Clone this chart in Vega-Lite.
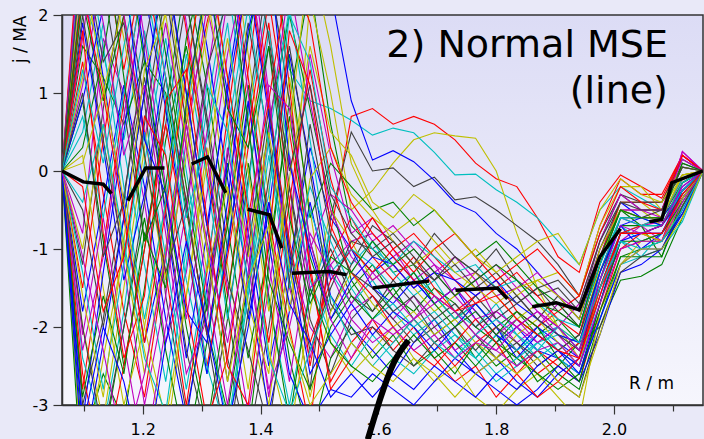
{
"$schema": "https://vega.github.io/schema/vega-lite/v6.json",
"width": 641, "height": 390,
"autosize": {"type": "none"},
"padding": {"left": 62, "top": 15, "right": 1, "bottom": 34},
"background": "#e9e9f8",
"config": {
 "font": "DejaVu Sans",
 "view": {"stroke": "#333333", "strokeWidth": 1.5, "fill": {"gradient": "linear", "x1": 0, "y1": 0, "x2": 0, "y2": 1, "stops": [{"offset": 0, "color": "#dcdcf5"}, {"offset": 1, "color": "#f6f6fd"}]}},
 "axis": {"zindex": 1, "grid": false, "domainColor": "#333333", "domainWidth": 1.5, "tickColor": "#333333", "tickWidth": 1.2, "labelColor": "#000000", "labelFont": "DejaVu Sans", "labelFontSize": 16, "titleFont": "DejaVu Sans", "titleFontWeight": "normal", "titleFontSize": 17, "titleColor": "#000000", "labelOverlap": false, "labelFlush": false}
},
"datasets": {
"m": [
{"s":0,"r":1.063,"j":0},{"s":0,"r":1.098,"j":2.8},{"s":0,"r":1.133,"j":1.2},{"s":0,"r":1.168,"j":-0.5},{"s":0,"r":1.203,"j":-2.2},{"s":0,"r":1.239,"j":-1.0},{"s":0,"r":1.274,"j":0.8},{"s":0,"r":1.309,"j":2.5},{"s":0,"r":1.344,"j":1.0},{"s":0,"r":1.379,"j":-0.8},{"s":0,"r":1.414,"j":-2.5},{"s":0,"r":1.449,"j":-1.2},{"s":0,"r":1.484,"j":0.3},{"s":0,"r":1.519,"j":-0.6},{"s":0,"r":1.554,"j":-1.0},{"s":0,"r":1.59,"j":-1.3},{"s":0,"r":1.625,"j":-1.1},{"s":0,"r":1.66,"j":-1.4},{"s":0,"r":1.695,"j":-1.7},{"s":0,"r":1.73,"j":-1.5},{"s":0,"r":1.765,"j":-1.9},{"s":0,"r":1.8,"j":-2.2},{"s":0,"r":1.835,"j":-2.0},{"s":0,"r":1.87,"j":-2.3},{"s":0,"r":1.905,"j":-2.4},{"s":0,"r":1.941,"j":-2.6},{"s":0,"r":1.976,"j":-1.7},{"s":0,"r":2.011,"j":-0.8},{"s":0,"r":2.046,"j":-0.8},{"s":0,"r":2.081,"j":-0.7},{"s":0,"r":2.116,"j":-0.35},{"s":0,"r":2.151,"j":0},
{"s":1,"r":1.063,"j":0},{"s":1,"r":1.098,"j":-3.5},{"s":1,"r":1.133,"j":-2.6},{"s":1,"r":1.168,"j":-3.2},{"s":1,"r":1.203,"j":-1.5},{"s":1,"r":1.239,"j":0.4},{"s":1,"r":1.274,"j":1.6},{"s":1,"r":1.309,"j":0.2},{"s":1,"r":1.344,"j":-1.8},{"s":1,"r":1.379,"j":-3.4},{"s":1,"r":1.414,"j":-1.2},{"s":1,"r":1.449,"j":0.9},{"s":1,"r":1.484,"j":2.4},{"s":1,"r":1.519,"j":0.6},{"s":1,"r":1.554,"j":-0.7},{"s":1,"r":1.59,"j":-1.0},{"s":1,"r":1.625,"j":-1.3},{"s":1,"r":1.66,"j":-1.2},{"s":1,"r":1.695,"j":-1.6},{"s":1,"r":1.73,"j":-1.9},{"s":1,"r":1.765,"j":-1.7},{"s":1,"r":1.8,"j":-2.0},{"s":1,"r":1.835,"j":-1.8},{"s":1,"r":1.87,"j":-2.1},{"s":1,"r":1.905,"j":-1.9},{"s":1,"r":1.941,"j":-2.2},{"s":1,"r":1.976,"j":-1.4},{"s":1,"r":2.011,"j":-0.6},{"s":1,"r":2.046,"j":-0.6},{"s":1,"r":2.081,"j":-0.6},{"s":1,"r":2.116,"j":-0.25},{"s":1,"r":2.151,"j":0},
{"s":2,"r":1.063,"j":0},{"s":2,"r":1.098,"j":1.4},{"s":2,"r":1.133,"j":-0.3},{"s":2,"r":1.168,"j":-1.8},{"s":2,"r":1.203,"j":-2.9},{"s":2,"r":1.239,"j":-1.1},{"s":2,"r":1.274,"j":0.6},{"s":2,"r":1.309,"j":1.9},{"s":2,"r":1.344,"j":3.0},{"s":2,"r":1.379,"j":1.2},{"s":2,"r":1.414,"j":-0.6},{"s":2,"r":1.449,"j":-2.0},{"s":2,"r":1.484,"j":-3.3},{"s":2,"r":1.519,"j":-0.8},{"s":2,"r":1.554,"j":0.7},{"s":2,"r":1.59,"j":0.8},{"s":2,"r":1.625,"j":0.6},{"s":2,"r":1.66,"j":0.7},{"s":2,"r":1.695,"j":0.6},{"s":2,"r":1.73,"j":0.4},{"s":2,"r":1.765,"j":0.1},{"s":2,"r":1.8,"j":-0.1},{"s":2,"r":1.835,"j":-0.2},{"s":2,"r":1.87,"j":-0.6},{"s":2,"r":1.905,"j":-1.1},{"s":2,"r":1.941,"j":-1.3},{"s":2,"r":1.976,"j":-0.4},{"s":2,"r":2.011,"j":-0.05},{"s":2,"r":2.046,"j":-0.2},{"s":2,"r":2.081,"j":-0.35},{"s":2,"r":2.116,"j":0.2},{"s":2,"r":2.151,"j":0},
{"s":3,"r":1.063,"j":0},{"s":3,"r":1.098,"j":2.2},{"s":3,"r":1.133,"j":1.5},{"s":3,"r":1.168,"j":0.4},{"s":3,"r":1.203,"j":1.8},{"s":3,"r":1.239,"j":0.2},{"s":3,"r":1.274,"j":-1.4},{"s":3,"r":1.309,"j":-2.6},{"s":3,"r":1.344,"j":-0.9},{"s":3,"r":1.379,"j":0.7},{"s":3,"r":1.414,"j":2.3},{"s":3,"r":1.449,"j":1.3},{"s":3,"r":1.484,"j":0.9},{"s":3,"r":1.519,"j":0.8},{"s":3,"r":1.554,"j":0.65},{"s":3,"r":1.59,"j":0.46},{"s":3,"r":1.625,"j":0.55},{"s":3,"r":1.66,"j":0.49},{"s":3,"r":1.695,"j":0.24},{"s":3,"r":1.73,"j":-0.05},{"s":3,"r":1.765,"j":-0.04},{"s":3,"r":1.8,"j":-0.24},{"s":3,"r":1.835,"j":-0.4},{"s":3,"r":1.87,"j":-0.6},{"s":3,"r":1.905,"j":-0.9},{"s":3,"r":1.941,"j":-1.2},{"s":3,"r":1.976,"j":-0.5},{"s":3,"r":2.011,"j":-0.2},{"s":3,"r":2.046,"j":-0.35},{"s":3,"r":2.081,"j":-0.5},{"s":3,"r":2.116,"j":0.05},{"s":3,"r":2.151,"j":0},
{"s":4,"r":1.063,"j":0},{"s":4,"r":1.098,"j":-0.8},{"s":4,"r":1.133,"j":1.7},{"s":4,"r":1.168,"j":1.0},{"s":4,"r":1.203,"j":-0.4},{"s":4,"r":1.239,"j":-2.2},{"s":4,"r":1.274,"j":-1.3},{"s":4,"r":1.309,"j":0.5},{"s":4,"r":1.344,"j":2.2},{"s":4,"r":1.379,"j":3.1},{"s":4,"r":1.414,"j":1.0},{"s":4,"r":1.449,"j":-1.5},{"s":4,"r":1.484,"j":-2.4},{"s":4,"r":1.519,"j":-1.2},{"s":4,"r":1.554,"j":-0.9},{"s":4,"r":1.59,"j":-0.8},{"s":4,"r":1.625,"j":-1.1},{"s":4,"r":1.66,"j":-0.9},{"s":4,"r":1.695,"j":-1.2},{"s":4,"r":1.73,"j":-1.4},{"s":4,"r":1.765,"j":-1.3},{"s":4,"r":1.8,"j":-1.6},{"s":4,"r":1.835,"j":-1.5},{"s":4,"r":1.87,"j":-1.8},{"s":4,"r":1.905,"j":-2.0},{"s":4,"r":1.941,"j":-2.3},{"s":4,"r":1.976,"j":-1.3},{"s":4,"r":2.011,"j":-0.6},{"s":4,"r":2.046,"j":-0.7},{"s":4,"r":2.081,"j":-0.65},{"s":4,"r":2.116,"j":0.25},{"s":4,"r":2.151,"j":0},
{"s":5,"r":1.063,"j":0},{"s":5,"r":1.098,"j":-2.0},{"s":5,"r":1.133,"j":-3.2},{"s":5,"r":1.168,"j":-1.5},{"s":5,"r":1.203,"j":0.3},{"s":5,"r":1.239,"j":2.1},{"s":5,"r":1.274,"j":3.2},{"s":5,"r":1.309,"j":1.4},{"s":5,"r":1.344,"j":-0.3},{"s":5,"r":1.379,"j":-1.9},{"s":5,"r":1.414,"j":-3.0},{"s":5,"r":1.449,"j":-1.0},{"s":5,"r":1.484,"j":2.2},{"s":5,"r":1.519,"j":1.0},{"s":5,"r":1.554,"j":-0.5},{"s":5,"r":1.59,"j":-0.25},{"s":5,"r":1.625,"j":0.1},{"s":5,"r":1.66,"j":0.4},{"s":5,"r":1.695,"j":0.49},{"s":5,"r":1.73,"j":0.45},{"s":5,"r":1.765,"j":0.42},{"s":5,"r":1.8,"j":0.0},{"s":5,"r":1.835,"j":-0.8},{"s":5,"r":1.87,"j":-1.5},{"s":5,"r":1.905,"j":-2.0},{"s":5,"r":1.941,"j":-2.4},{"s":5,"r":1.976,"j":-1.2},{"s":5,"r":2.011,"j":-0.5},{"s":5,"r":2.046,"j":-0.5},{"s":5,"r":2.081,"j":-0.7},{"s":5,"r":2.116,"j":-0.15},{"s":5,"r":2.151,"j":0},
{"s":6,"r":1.063,"j":0},{"s":6,"r":1.098,"j":-1.2},{"s":6,"r":1.133,"j":0.8},{"s":6,"r":1.168,"j":2.4},{"s":6,"r":1.203,"j":0.9},{"s":6,"r":1.239,"j":-1.6},{"s":6,"r":1.274,"j":-3.1},{"s":6,"r":1.309,"j":-1.7},{"s":6,"r":1.344,"j":0.2},{"s":6,"r":1.379,"j":1.9},{"s":6,"r":1.414,"j":0.4},{"s":6,"r":1.449,"j":-1.4},{"s":6,"r":1.484,"j":-2.8},{"s":6,"r":1.519,"j":-0.6},{"s":6,"r":1.554,"j":0.5},{"s":6,"r":1.59,"j":0.0},{"s":6,"r":1.625,"j":0.04},{"s":6,"r":1.66,"j":-0.2},{"s":6,"r":1.695,"j":-0.08},{"s":6,"r":1.73,"j":-0.37},{"s":6,"r":1.765,"j":-0.33},{"s":6,"r":1.8,"j":-0.5},{"s":6,"r":1.835,"j":-0.7},{"s":6,"r":1.87,"j":-0.9},{"s":6,"r":1.905,"j":-1.2},{"s":6,"r":1.941,"j":-1.6},{"s":6,"r":1.976,"j":-0.8},{"s":6,"r":2.011,"j":-0.3},{"s":6,"r":2.046,"j":-0.4},{"s":6,"r":2.081,"j":-0.4},{"s":6,"r":2.116,"j":-0.05},{"s":6,"r":2.151,"j":0},
{"s":7,"r":1.063,"j":0},{"s":7,"r":1.098,"j":3.0},{"s":7,"r":1.133,"j":2.0},{"s":7,"r":1.168,"j":3.3},{"s":7,"r":1.203,"j":1.5},{"s":7,"r":1.239,"j":-0.6},{"s":7,"r":1.274,"j":-2.4},{"s":7,"r":1.309,"j":-0.8},{"s":7,"r":1.344,"j":1.1},{"s":7,"r":1.379,"j":2.8},{"s":7,"r":1.414,"j":3.4},{"s":7,"r":1.449,"j":2.5},{"s":7,"r":1.484,"j":2.6},{"s":7,"r":1.519,"j":2.3},{"s":7,"r":1.554,"j":0.9},{"s":7,"r":1.59,"j":0.14},{"s":7,"r":1.625,"j":0.26},{"s":7,"r":1.66,"j":0.12},{"s":7,"r":1.695,"j":-0.12},{"s":7,"r":1.73,"j":-0.41},{"s":7,"r":1.765,"j":-0.53},{"s":7,"r":1.8,"j":-0.8},{"s":7,"r":1.835,"j":-1.0},{"s":7,"r":1.87,"j":-1.3},{"s":7,"r":1.905,"j":-1.6},{"s":7,"r":1.941,"j":-1.9},{"s":7,"r":1.976,"j":-1.1},{"s":7,"r":2.011,"j":-0.4},{"s":7,"r":2.046,"j":-0.6},{"s":7,"r":2.081,"j":-0.6},{"s":7,"r":2.116,"j":-0.25},{"s":7,"r":2.151,"j":0},
{"s":8,"r":1.063,"j":0},{"s":8,"r":1.098,"j":1.6},{"s":8,"r":1.133,"j":1.2},{"s":8,"r":1.168,"j":0.6},{"s":8,"r":1.203,"j":1.4},{"s":8,"r":1.239,"j":1.0},{"s":8,"r":1.274,"j":-0.5},{"s":8,"r":1.309,"j":-2.0},{"s":8,"r":1.344,"j":-3.1},{"s":8,"r":1.379,"j":-1.4},{"s":8,"r":1.414,"j":0.6},{"s":8,"r":1.449,"j":2.0},{"s":8,"r":1.484,"j":0.8},{"s":8,"r":1.519,"j":-0.4},{"s":8,"r":1.554,"j":-1.4},{"s":8,"r":1.59,"j":-1.8},{"s":8,"r":1.625,"j":-1.5},{"s":8,"r":1.66,"j":-1.9},{"s":8,"r":1.695,"j":-2.2},{"s":8,"r":1.73,"j":-2.0},{"s":8,"r":1.765,"j":-2.4},{"s":8,"r":1.8,"j":-2.1},{"s":8,"r":1.835,"j":-2.5},{"s":8,"r":1.87,"j":-2.3},{"s":8,"r":1.905,"j":-2.6},{"s":8,"r":1.941,"j":-2.8},{"s":8,"r":1.976,"j":-1.9},{"s":8,"r":2.011,"j":-1.1},{"s":8,"r":2.046,"j":-1.0},{"s":8,"r":2.081,"j":-0.9},{"s":8,"r":2.116,"j":-0.55},{"s":8,"r":2.151,"j":0},
{"s":9,"r":1.063,"j":0},{"s":9,"r":1.098,"j":-2.8},{"s":9,"r":1.133,"j":-1.0},{"s":9,"r":1.168,"j":0.9},{"s":9,"r":1.203,"j":2.6},{"s":9,"r":1.239,"j":1.2},{"s":9,"r":1.274,"j":-0.4},{"s":9,"r":1.309,"j":-2.1},{"s":9,"r":1.344,"j":-0.6},{"s":9,"r":1.379,"j":1.3},{"s":9,"r":1.414,"j":3.2},{"s":9,"r":1.449,"j":1.1},{"s":9,"r":1.484,"j":-1.3},{"s":9,"r":1.519,"j":-2.7},{"s":9,"r":1.554,"j":-2.2},{"s":9,"r":1.59,"j":-1.9},{"s":9,"r":1.625,"j":-2.3},{"s":9,"r":1.66,"j":-2.0},{"s":9,"r":1.695,"j":-2.4},{"s":9,"r":1.73,"j":-2.7},{"s":9,"r":1.765,"j":-2.5},{"s":9,"r":1.8,"j":-2.9},{"s":9,"r":1.835,"j":-2.6},{"s":9,"r":1.87,"j":-2.3},{"s":9,"r":1.905,"j":-2.5},{"s":9,"r":1.941,"j":-2.7},{"s":9,"r":1.976,"j":-1.8},{"s":9,"r":2.011,"j":-1.0},{"s":9,"r":2.046,"j":-0.9},{"s":9,"r":2.081,"j":-0.8},{"s":9,"r":2.116,"j":-0.35},{"s":9,"r":2.151,"j":0},
{"s":10,"r":1.063,"j":0},{"s":10,"r":1.098,"j":0.5},{"s":10,"r":1.133,"j":1.9},{"s":10,"r":1.168,"j":0.3},{"s":10,"r":1.203,"j":-1.2},{"s":10,"r":1.239,"j":-2.7},{"s":10,"r":1.274,"j":-1.0},{"s":10,"r":1.309,"j":0.8},{"s":10,"r":1.344,"j":2.4},{"s":10,"r":1.379,"j":0.6},{"s":10,"r":1.414,"j":-1.7},{"s":10,"r":1.449,"j":-3.0},{"s":10,"r":1.484,"j":-1.6},{"s":10,"r":1.519,"j":-0.8},{"s":10,"r":1.554,"j":-1.2},{"s":10,"r":1.59,"j":-0.9},{"s":10,"r":1.625,"j":-1.3},{"s":10,"r":1.66,"j":-1.6},{"s":10,"r":1.695,"j":-1.4},{"s":10,"r":1.73,"j":-1.8},{"s":10,"r":1.765,"j":-2.0},{"s":10,"r":1.8,"j":-1.7},{"s":10,"r":1.835,"j":-2.1},{"s":10,"r":1.87,"j":-2.4},{"s":10,"r":1.905,"j":-2.2},{"s":10,"r":1.941,"j":-2.5},{"s":10,"r":1.976,"j":-1.6},{"s":10,"r":2.011,"j":-0.9},{"s":10,"r":2.046,"j":-1.1},{"s":10,"r":2.081,"j":-0.8},{"s":10,"r":2.116,"j":-0.45},{"s":10,"r":2.151,"j":0},
{"s":11,"r":1.063,"j":0},{"s":11,"r":1.098,"j":2.5},{"s":11,"r":1.133,"j":0.7},{"s":11,"r":1.168,"j":-1.2},{"s":11,"r":1.203,"j":-3.0},{"s":11,"r":1.239,"j":-1.6},{"s":11,"r":1.274,"j":0.4},{"s":11,"r":1.309,"j":2.1},{"s":11,"r":1.344,"j":0.9},{"s":11,"r":1.379,"j":-1.0},{"s":11,"r":1.414,"j":-2.9},{"s":11,"r":1.449,"j":-0.7},{"s":11,"r":1.484,"j":1.5},{"s":11,"r":1.519,"j":0.2},{"s":11,"r":1.554,"j":-0.8},{"s":11,"r":1.59,"j":-0.6},{"s":11,"r":1.625,"j":-1.0},{"s":11,"r":1.66,"j":-1.4},{"s":11,"r":1.695,"j":-1.2},{"s":11,"r":1.73,"j":-1.6},{"s":11,"r":1.765,"j":-1.4},{"s":11,"r":1.8,"j":-1.9},{"s":11,"r":1.835,"j":-2.2},{"s":11,"r":1.87,"j":-2.0},{"s":11,"r":1.905,"j":-1.7},{"s":11,"r":1.941,"j":-2.0},{"s":11,"r":1.976,"j":-1.1},{"s":11,"r":2.011,"j":-0.5},{"s":11,"r":2.046,"j":-0.5},{"s":11,"r":2.081,"j":-0.5},{"s":11,"r":2.116,"j":0.2},{"s":11,"r":2.151,"j":0},
{"s":12,"r":1.063,"j":0},{"s":12,"r":1.098,"j":-3.9},{"s":12,"r":1.133,"j":-2.4},{"s":12,"r":1.168,"j":-1.0},{"s":12,"r":1.203,"j":-2.3},{"s":12,"r":1.239,"j":-3.5},{"s":12,"r":1.274,"j":-1.6},{"s":12,"r":1.309,"j":0.3},{"s":12,"r":1.344,"j":-1.2},{"s":12,"r":1.379,"j":-2.8},{"s":12,"r":1.414,"j":-0.8},{"s":12,"r":1.449,"j":1.2},{"s":12,"r":1.484,"j":-0.5},{"s":12,"r":1.519,"j":-2.2},{"s":12,"r":1.554,"j":-2.6},{"s":12,"r":1.59,"j":-2.3},{"s":12,"r":1.625,"j":-2.0},{"s":12,"r":1.66,"j":-2.4},{"s":12,"r":1.695,"j":-2.7},{"s":12,"r":1.73,"j":-2.5},{"s":12,"r":1.765,"j":-2.9},{"s":12,"r":1.8,"j":-3.1},{"s":12,"r":1.835,"j":-2.8},{"s":12,"r":1.87,"j":-2.6},{"s":12,"r":1.905,"j":-2.9},{"s":12,"r":1.941,"j":-3.2},{"s":12,"r":1.976,"j":-1.8},{"s":12,"r":2.011,"j":-1.2},{"s":12,"r":2.046,"j":-0.9},{"s":12,"r":2.081,"j":-0.9},{"s":12,"r":2.116,"j":-0.45},{"s":12,"r":2.151,"j":0},
{"s":13,"r":1.063,"j":0},{"s":13,"r":1.098,"j":3.4},{"s":13,"r":1.133,"j":2.4},{"s":13,"r":1.168,"j":0.8},{"s":13,"r":1.203,"j":-0.9},{"s":13,"r":1.239,"j":0.6},{"s":13,"r":1.274,"j":2.2},{"s":13,"r":1.309,"j":0.7},{"s":13,"r":1.344,"j":-1.0},{"s":13,"r":1.379,"j":0.8},{"s":13,"r":1.414,"j":2.6},{"s":13,"r":1.449,"j":0.9},{"s":13,"r":1.484,"j":-0.9},{"s":13,"r":1.519,"j":-1.8},{"s":13,"r":1.554,"j":-1.2},{"s":13,"r":1.59,"j":-0.7},{"s":13,"r":1.625,"j":-0.9},{"s":13,"r":1.66,"j":-1.2},{"s":13,"r":1.695,"j":-0.8},{"s":13,"r":1.73,"j":-1.1},{"s":13,"r":1.765,"j":-1.3},{"s":13,"r":1.8,"j":-1.0},{"s":13,"r":1.835,"j":-1.4},{"s":13,"r":1.87,"j":-1.6},{"s":13,"r":1.905,"j":-1.5},{"s":13,"r":1.941,"j":-1.8},{"s":13,"r":1.976,"j":-0.9},{"s":13,"r":2.011,"j":-0.3},{"s":13,"r":2.046,"j":-0.5},{"s":13,"r":2.081,"j":-0.5},{"s":13,"r":2.116,"j":0.1},{"s":13,"r":2.151,"j":0},
{"s":14,"r":1.063,"j":0},{"s":14,"r":1.098,"j":-1.8},{"s":14,"r":1.133,"j":-0.4},{"s":14,"r":1.168,"j":1.1},{"s":14,"r":1.203,"j":-0.2},{"s":14,"r":1.239,"j":-1.9},{"s":14,"r":1.274,"j":-3.2},{"s":14,"r":1.309,"j":-1.5},{"s":14,"r":1.344,"j":0.1},{"s":14,"r":1.379,"j":-1.4},{"s":14,"r":1.414,"j":-3.1},{"s":14,"r":1.449,"j":-1.8},{"s":14,"r":1.484,"j":-0.4},{"s":14,"r":1.519,"j":-1.6},{"s":14,"r":1.554,"j":-2.0},{"s":14,"r":1.59,"j":-2.3},{"s":14,"r":1.625,"j":-2.6},{"s":14,"r":1.66,"j":-2.2},{"s":14,"r":1.695,"j":-1.9},{"s":14,"r":1.73,"j":-2.3},{"s":14,"r":1.765,"j":-2.6},{"s":14,"r":1.8,"j":-2.4},{"s":14,"r":1.835,"j":-2.7},{"s":14,"r":1.87,"j":-2.9},{"s":14,"r":1.905,"j":-2.6},{"s":14,"r":1.941,"j":-2.4},{"s":14,"r":1.976,"j":-1.5},{"s":14,"r":2.011,"j":-0.8},{"s":14,"r":2.046,"j":-0.8},{"s":14,"r":2.081,"j":-0.7},{"s":14,"r":2.116,"j":-0.25},{"s":14,"r":2.151,"j":0},
{"s":15,"r":1.063,"j":0},{"s":15,"r":1.098,"j":0.9},{"s":15,"r":1.133,"j":-0.9},{"s":15,"r":1.168,"j":-2.5},{"s":15,"r":1.203,"j":-1.0},{"s":15,"r":1.239,"j":0.8},{"s":15,"r":1.274,"j":2.5},{"s":15,"r":1.309,"j":1.1},{"s":15,"r":1.344,"j":-0.7},{"s":15,"r":1.379,"j":-2.4},{"s":15,"r":1.414,"j":-1.0},{"s":15,"r":1.449,"j":0.7},{"s":15,"r":1.484,"j":-1.1},{"s":15,"r":1.519,"j":-1.9},{"s":15,"r":1.554,"j":-1.5},{"s":15,"r":1.59,"j":-1.2},{"s":15,"r":1.625,"j":-1.6},{"s":15,"r":1.66,"j":-1.8},{"s":15,"r":1.695,"j":-1.5},{"s":15,"r":1.73,"j":-1.7},{"s":15,"r":1.765,"j":-2.0},{"s":15,"r":1.8,"j":-2.2},{"s":15,"r":1.835,"j":-1.9},{"s":15,"r":1.87,"j":-2.1},{"s":15,"r":1.905,"j":-2.3},{"s":15,"r":1.941,"j":-2.1},{"s":15,"r":1.976,"j":-1.3},{"s":15,"r":2.011,"j":-0.7},{"s":15,"r":2.046,"j":-0.7},{"s":15,"r":2.081,"j":-1.1},{"s":15,"r":2.116,"j":-0.35},{"s":15,"r":2.151,"j":0},
{"s":16,"r":1.063,"j":0},{"s":16,"r":1.098,"j":3.6},{"s":16,"r":1.133,"j":2.9},{"s":16,"r":1.168,"j":1.3},{"s":16,"r":1.203,"j":2.7},{"s":16,"r":1.239,"j":3.5},{"s":16,"r":1.274,"j":1.8},{"s":16,"r":1.309,"j":0.0},{"s":16,"r":1.344,"j":-1.6},{"s":16,"r":1.379,"j":0.3},{"s":16,"r":1.414,"j":1.9},{"s":16,"r":1.449,"j":-0.4},{"s":16,"r":1.484,"j":-2.5},{"s":16,"r":1.519,"j":-1.1},{"s":16,"r":1.554,"j":-0.6},{"s":16,"r":1.59,"j":-1.1},{"s":16,"r":1.625,"j":-1.4},{"s":16,"r":1.66,"j":-1.1},{"s":16,"r":1.695,"j":-1.5},{"s":16,"r":1.73,"j":-1.8},{"s":16,"r":1.765,"j":-1.6},{"s":16,"r":1.8,"j":-1.4},{"s":16,"r":1.835,"j":-1.8},{"s":16,"r":1.87,"j":-2.0},{"s":16,"r":1.905,"j":-1.8},{"s":16,"r":1.941,"j":-1.6},{"s":16,"r":1.976,"j":-0.7},{"s":16,"r":2.011,"j":-0.1},{"s":16,"r":2.046,"j":-0.3},{"s":16,"r":2.081,"j":-0.3},{"s":16,"r":2.116,"j":0.2},{"s":16,"r":2.151,"j":0},
{"s":17,"r":1.063,"j":0},{"s":17,"r":1.098,"j":-2.4},{"s":17,"r":1.133,"j":-3.3},{"s":17,"r":1.168,"j":-1.8},{"s":17,"r":1.203,"j":0.1},{"s":17,"r":1.239,"j":1.7},{"s":17,"r":1.274,"j":0.0},{"s":17,"r":1.309,"j":-1.7},{"s":17,"r":1.344,"j":-3.3},{"s":17,"r":1.379,"j":-1.5},{"s":17,"r":1.414,"j":0.4},{"s":17,"r":1.449,"j":2.1},{"s":17,"r":1.484,"j":0.4},{"s":17,"r":1.519,"j":-1.3},{"s":17,"r":1.554,"j":-1.7},{"s":17,"r":1.59,"j":-1.4},{"s":17,"r":1.625,"j":-1.8},{"s":17,"r":1.66,"j":-2.1},{"s":17,"r":1.695,"j":-1.9},{"s":17,"r":1.73,"j":-2.2},{"s":17,"r":1.765,"j":-2.4},{"s":17,"r":1.8,"j":-2.1},{"s":17,"r":1.835,"j":-2.3},{"s":17,"r":1.87,"j":-2.0},{"s":17,"r":1.905,"j":-2.3},{"s":17,"r":1.941,"j":-2.5},{"s":17,"r":1.976,"j":-1.4},{"s":17,"r":2.011,"j":-0.7},{"s":17,"r":2.046,"j":-0.9},{"s":17,"r":2.081,"j":-0.8},{"s":17,"r":2.116,"j":-0.35},{"s":17,"r":2.151,"j":0},
{"s":18,"r":1.063,"j":0},{"s":18,"r":1.098,"j":1.1},{"s":18,"r":1.133,"j":2.6},{"s":18,"r":1.168,"j":3.4},{"s":18,"r":1.203,"j":1.7},{"s":18,"r":1.239,"j":-0.2},{"s":18,"r":1.274,"j":-1.9},{"s":18,"r":1.309,"j":-0.3},{"s":18,"r":1.344,"j":1.5},{"s":18,"r":1.379,"j":2.7},{"s":18,"r":1.414,"j":0.9},{"s":18,"r":1.449,"j":-1.0},{"s":18,"r":1.484,"j":-2.0},{"s":18,"r":1.519,"j":-2.4},{"s":18,"r":1.554,"j":-1.8},{"s":18,"r":1.59,"j":-1.6},{"s":18,"r":1.625,"j":-1.9},{"s":18,"r":1.66,"j":-1.6},{"s":18,"r":1.695,"j":-2.0},{"s":18,"r":1.73,"j":-2.3},{"s":18,"r":1.765,"j":-2.1},{"s":18,"r":1.8,"j":-1.8},{"s":18,"r":1.835,"j":-2.0},{"s":18,"r":1.87,"j":-2.2},{"s":18,"r":1.905,"j":-2.0},{"s":18,"r":1.941,"j":-2.3},{"s":18,"r":1.976,"j":-1.5},{"s":18,"r":2.011,"j":-0.9},{"s":18,"r":2.046,"j":-0.7},{"s":18,"r":2.081,"j":-0.9},{"s":18,"r":2.116,"j":-0.15},{"s":18,"r":2.151,"j":0},
{"s":19,"r":1.063,"j":0},{"s":19,"r":1.098,"j":0.2},{"s":19,"r":1.133,"j":-1.5},{"s":19,"r":1.168,"j":-3.0},{"s":19,"r":1.203,"j":-2.0},{"s":19,"r":1.239,"j":-0.4},{"s":19,"r":1.274,"j":1.3},{"s":19,"r":1.309,"j":2.8},{"s":19,"r":1.344,"j":1.2},{"s":19,"r":1.379,"j":-0.6},{"s":19,"r":1.414,"j":-2.3},{"s":19,"r":1.449,"j":-3.4},{"s":19,"r":1.484,"j":-1.8},{"s":19,"r":1.519,"j":-0.5},{"s":19,"r":1.554,"j":-0.9},{"s":19,"r":1.59,"j":-1.4},{"s":19,"r":1.625,"j":-1.2},{"s":19,"r":1.66,"j":-1.5},{"s":19,"r":1.695,"j":-1.8},{"s":19,"r":1.73,"j":-1.6},{"s":19,"r":1.765,"j":-1.3},{"s":19,"r":1.8,"j":-1.6},{"s":19,"r":1.835,"j":-1.9},{"s":19,"r":1.87,"j":-1.7},{"s":19,"r":1.905,"j":-2.0},{"s":19,"r":1.941,"j":-2.2},{"s":19,"r":1.976,"j":-1.2},{"s":19,"r":2.011,"j":-0.4},{"s":19,"r":2.046,"j":-0.4},{"s":19,"r":2.081,"j":-0.6},{"s":19,"r":2.116,"j":-0.05},{"s":19,"r":2.151,"j":0},
{"s":20,"r":1.063,"j":0},{"s":20,"r":1.098,"j":-3.0},{"s":20,"r":1.133,"j":-1.9},{"s":20,"r":1.168,"j":-0.3},{"s":20,"r":1.203,"j":1.2},{"s":20,"r":1.239,"j":-0.5},{"s":20,"r":1.274,"j":-2.3},{"s":20,"r":1.309,"j":-3.4},{"s":20,"r":1.344,"j":-1.9},{"s":20,"r":1.379,"j":-0.1},{"s":20,"r":1.414,"j":1.6},{"s":20,"r":1.449,"j":-0.2},{"s":20,"r":1.484,"j":-1.6},{"s":20,"r":1.519,"j":-1.0},{"s":20,"r":1.554,"j":-1.6},{"s":20,"r":1.59,"j":-1.8},{"s":20,"r":1.625,"j":-1.4},{"s":20,"r":1.66,"j":-1.7},{"s":20,"r":1.695,"j":-2.1},{"s":20,"r":1.73,"j":-1.9},{"s":20,"r":1.765,"j":-1.6},{"s":20,"r":1.8,"j":-1.9},{"s":20,"r":1.835,"j":-1.7},{"s":20,"r":1.87,"j":-1.5},{"s":20,"r":1.905,"j":-1.8},{"s":20,"r":1.941,"j":-2.0},{"s":20,"r":1.976,"j":-1.2},{"s":20,"r":2.011,"j":-0.5},{"s":20,"r":2.046,"j":-0.6},{"s":20,"r":2.081,"j":-0.5},{"s":20,"r":2.116,"j":0.05},{"s":20,"r":2.151,"j":0},
{"s":21,"r":1.063,"j":0},{"s":21,"r":1.098,"j":1.9},{"s":21,"r":1.133,"j":0.3},{"s":21,"r":1.168,"j":-1.4},{"s":21,"r":1.203,"j":-0.3},{"s":21,"r":1.239,"j":1.4},{"s":21,"r":1.274,"j":3.0},{"s":21,"r":1.309,"j":1.6},{"s":21,"r":1.344,"j":-0.1},{"s":21,"r":1.379,"j":-1.9},{"s":21,"r":1.414,"j":-0.5},{"s":21,"r":1.449,"j":1.5},{"s":21,"r":1.484,"j":0.1},{"s":21,"r":1.519,"j":-1.4},{"s":21,"r":1.554,"j":-1.0},{"s":21,"r":1.59,"j":-1.5},{"s":21,"r":1.625,"j":-1.7},{"s":21,"r":1.66,"j":-1.4},{"s":21,"r":1.695,"j":-1.7},{"s":21,"r":1.73,"j":-1.5},{"s":21,"r":1.765,"j":-1.8},{"s":21,"r":1.8,"j":-2.1},{"s":21,"r":1.835,"j":-2.3},{"s":21,"r":1.87,"j":-2.0},{"s":21,"r":1.905,"j":-2.2},{"s":21,"r":1.941,"j":-2.4},{"s":21,"r":1.976,"j":-1.4},{"s":21,"r":2.011,"j":-0.7},{"s":21,"r":2.046,"j":-1.0},{"s":21,"r":2.081,"j":-0.8},{"s":21,"r":2.116,"j":-0.35},{"s":21,"r":2.151,"j":0},
{"s":22,"r":1.063,"j":0},{"s":22,"r":1.098,"j":-4.2},{"s":22,"r":1.133,"j":-3.5},{"s":22,"r":1.168,"j":-2.0},{"s":22,"r":1.203,"j":-0.6},{"s":22,"r":1.239,"j":-2.3},{"s":22,"r":1.274,"j":-3.6},{"s":22,"r":1.309,"j":-2.2},{"s":22,"r":1.344,"j":-0.7},{"s":22,"r":1.379,"j":1.1},{"s":22,"r":1.414,"j":-0.7},{"s":22,"r":1.449,"j":-2.4},{"s":22,"r":1.484,"j":-3.5},{"s":22,"r":1.519,"j":-2.4},{"s":22,"r":1.554,"j":-2.0},{"s":22,"r":1.59,"j":-2.4},{"s":22,"r":1.625,"j":-2.1},{"s":22,"r":1.66,"j":-2.5},{"s":22,"r":1.695,"j":-2.3},{"s":22,"r":1.73,"j":-2.6},{"s":22,"r":1.765,"j":-2.2},{"s":22,"r":1.8,"j":-2.5},{"s":22,"r":1.835,"j":-2.3},{"s":22,"r":1.87,"j":-2.7},{"s":22,"r":1.905,"j":-2.5},{"s":22,"r":1.941,"j":-2.2},{"s":22,"r":1.976,"j":-2.0},{"s":22,"r":2.011,"j":-1.4},{"s":22,"r":2.046,"j":-1.35},{"s":22,"r":2.081,"j":-1.2},{"s":22,"r":2.116,"j":-0.6},{"s":22,"r":2.151,"j":0},
{"s":23,"r":1.063,"j":0},{"s":23,"r":1.098,"j":-1.5},{"s":23,"r":1.133,"j":0.4},{"s":23,"r":1.168,"j":2.0},{"s":23,"r":1.203,"j":0.5},{"s":23,"r":1.239,"j":-1.3},{"s":23,"r":1.274,"j":-3.0},{"s":23,"r":1.309,"j":-1.3},{"s":23,"r":1.344,"j":0.7},{"s":23,"r":1.379,"j":2.6},{"s":23,"r":1.414,"j":0.8},{"s":23,"r":1.449,"j":-0.9},{"s":23,"r":1.484,"j":-2.2},{"s":23,"r":1.519,"j":-1.4},{"s":23,"r":1.554,"j":-1.0},{"s":23,"r":1.59,"j":-1.3},{"s":23,"r":1.625,"j":-1.0},{"s":23,"r":1.66,"j":-0.8},{"s":23,"r":1.695,"j":-1.1},{"s":23,"r":1.73,"j":-1.4},{"s":23,"r":1.765,"j":-1.7},{"s":23,"r":1.8,"j":-1.5},{"s":23,"r":1.835,"j":-1.3},{"s":23,"r":1.87,"j":-1.6},{"s":23,"r":1.905,"j":-1.9},{"s":23,"r":1.941,"j":-2.1},{"s":23,"r":1.976,"j":-1.1},{"s":23,"r":2.011,"j":-0.4},{"s":23,"r":2.046,"j":-0.4},{"s":23,"r":2.081,"j":-0.4},{"s":23,"r":2.116,"j":0.2},{"s":23,"r":2.151,"j":0},
{"s":24,"r":1.063,"j":0},{"s":24,"r":1.098,"j":3.1},{"s":24,"r":1.133,"j":1.6},{"s":24,"r":1.168,"j":-0.2},{"s":24,"r":1.203,"j":-1.9},{"s":24,"r":1.239,"j":-0.4},{"s":24,"r":1.274,"j":1.5},{"s":24,"r":1.309,"j":-0.1},{"s":24,"r":1.344,"j":-1.9},{"s":24,"r":1.379,"j":-0.2},{"s":24,"r":1.414,"j":1.8},{"s":24,"r":1.449,"j":0.2},{"s":24,"r":1.484,"j":-1.4},{"s":24,"r":1.519,"j":-2.1},{"s":24,"r":1.554,"j":-2.5},{"s":24,"r":1.59,"j":-2.1},{"s":24,"r":1.625,"j":-2.4},{"s":24,"r":1.66,"j":-2.6},{"s":24,"r":1.695,"j":-2.3},{"s":24,"r":1.73,"j":-2.1},{"s":24,"r":1.765,"j":-2.4},{"s":24,"r":1.8,"j":-2.7},{"s":24,"r":1.835,"j":-2.5},{"s":24,"r":1.87,"j":-2.2},{"s":24,"r":1.905,"j":-2.4},{"s":24,"r":1.941,"j":-2.6},{"s":24,"r":1.976,"j":-1.9},{"s":24,"r":2.011,"j":-1.2},{"s":24,"r":2.046,"j":-1.1},{"s":24,"r":2.081,"j":-1.0},{"s":24,"r":2.116,"j":-0.65},{"s":24,"r":2.151,"j":0},
{"s":25,"r":1.063,"j":0},{"s":25,"r":1.098,"j":-2.1},{"s":25,"r":1.133,"j":-0.6},{"s":25,"r":1.168,"j":-2.2},{"s":25,"r":1.203,"j":-3.7},{"s":25,"r":1.239,"j":-2.0},{"s":25,"r":1.274,"j":-0.5},{"s":25,"r":1.309,"j":1.2},{"s":25,"r":1.344,"j":2.9},{"s":25,"r":1.379,"j":1.0},{"s":25,"r":1.414,"j":-1.2},{"s":25,"r":1.449,"j":-2.7},{"s":25,"r":1.484,"j":-1.0},{"s":25,"r":1.519,"j":-0.3},{"s":25,"r":1.554,"j":-0.5},{"s":25,"r":1.59,"j":-0.9},{"s":25,"r":1.625,"j":-0.7},{"s":25,"r":1.66,"j":-1.0},{"s":25,"r":1.695,"j":-1.3},{"s":25,"r":1.73,"j":-1.1},{"s":25,"r":1.765,"j":-1.4},{"s":25,"r":1.8,"j":-1.2},{"s":25,"r":1.835,"j":-1.5},{"s":25,"r":1.87,"j":-1.3},{"s":25,"r":1.905,"j":-1.6},{"s":25,"r":1.941,"j":-1.8},{"s":25,"r":1.976,"j":-1.0},{"s":25,"r":2.011,"j":-0.5},{"s":25,"r":2.046,"j":-0.5},{"s":25,"r":2.081,"j":-0.6},{"s":25,"r":2.116,"j":0.25},{"s":25,"r":2.151,"j":0},
{"s":26,"r":1.063,"j":0},{"s":26,"r":1.098,"j":1.2},{"s":26,"r":1.133,"j":3.0},{"s":26,"r":1.168,"j":1.7},{"s":26,"r":1.203,"j":0.2},{"s":26,"r":1.239,"j":-1.4},{"s":26,"r":1.274,"j":0.2},{"s":26,"r":1.309,"j":1.8},{"s":26,"r":1.344,"j":3.3},{"s":26,"r":1.379,"j":1.5},{"s":26,"r":1.414,"j":-0.3},{"s":26,"r":1.449,"j":-1.8},{"s":26,"r":1.484,"j":-0.1},{"s":26,"r":1.519,"j":0.3},{"s":26,"r":1.554,"j":-0.3},{"s":26,"r":1.59,"j":-0.6},{"s":26,"r":1.625,"j":-0.8},{"s":26,"r":1.66,"j":-0.6},{"s":26,"r":1.695,"j":-0.9},{"s":26,"r":1.73,"j":-1.2},{"s":26,"r":1.765,"j":-1.0},{"s":26,"r":1.8,"j":-1.3},{"s":26,"r":1.835,"j":-1.6},{"s":26,"r":1.87,"j":-1.4},{"s":26,"r":1.905,"j":-1.3},{"s":26,"r":1.941,"j":-1.6},{"s":26,"r":1.976,"j":-0.7},{"s":26,"r":2.011,"j":-0.2},{"s":26,"r":2.046,"j":-0.2},{"s":26,"r":2.081,"j":-0.5},{"s":26,"r":2.116,"j":-0.05},{"s":26,"r":2.151,"j":0},
{"s":27,"r":1.063,"j":0},{"s":27,"r":1.098,"j":-0.5},{"s":27,"r":1.133,"j":-2.0},{"s":27,"r":1.168,"j":-0.6},{"s":27,"r":1.203,"j":1.0},{"s":27,"r":1.239,"j":2.6},{"s":27,"r":1.274,"j":1.0},{"s":27,"r":1.309,"j":-0.7},{"s":27,"r":1.344,"j":-2.4},{"s":27,"r":1.379,"j":-3.5},{"s":27,"r":1.414,"j":-2.0},{"s":27,"r":1.449,"j":-0.2},{"s":27,"r":1.484,"j":-1.9},{"s":27,"r":1.519,"j":-2.6},{"s":27,"r":1.554,"j":-1.9},{"s":27,"r":1.59,"j":-1.6},{"s":27,"r":1.625,"j":-1.9},{"s":27,"r":1.66,"j":-2.2},{"s":27,"r":1.695,"j":-2.0},{"s":27,"r":1.73,"j":-1.8},{"s":27,"r":1.765,"j":-2.1},{"s":27,"r":1.8,"j":-2.4},{"s":27,"r":1.835,"j":-2.2},{"s":27,"r":1.87,"j":-2.5},{"s":27,"r":1.905,"j":-2.3},{"s":27,"r":1.941,"j":-2.1},{"s":27,"r":1.976,"j":-1.3},{"s":27,"r":2.011,"j":-0.6},{"s":27,"r":2.046,"j":-0.6},{"s":27,"r":2.081,"j":-0.6},{"s":27,"r":2.116,"j":-0.15},{"s":27,"r":2.151,"j":0},
{"s":28,"r":1.063,"j":0},{"s":28,"r":1.098,"j":-3.2},{"s":28,"r":1.133,"j":-1.3},{"s":28,"r":1.168,"j":0.5},{"s":28,"r":1.203,"j":2.3},{"s":28,"r":1.239,"j":0.8},{"s":28,"r":1.274,"j":-0.9},{"s":28,"r":1.309,"j":-2.6},{"s":28,"r":1.344,"j":-1.0},{"s":28,"r":1.379,"j":0.9},{"s":28,"r":1.414,"j":-0.9},{"s":28,"r":1.449,"j":-2.6},{"s":28,"r":1.484,"j":-3.2},{"s":28,"r":1.519,"j":-2.8},{"s":28,"r":1.554,"j":-2.9},{"s":28,"r":1.59,"j":-2.6},{"s":28,"r":1.625,"j":-2.8},{"s":28,"r":1.66,"j":-3.0},{"s":28,"r":1.695,"j":-2.7},{"s":28,"r":1.73,"j":-2.4},{"s":28,"r":1.765,"j":-2.6},{"s":28,"r":1.8,"j":-2.8},{"s":28,"r":1.835,"j":-3.0},{"s":28,"r":1.87,"j":-2.8},{"s":28,"r":1.905,"j":-2.5},{"s":28,"r":1.941,"j":-2.7},{"s":28,"r":1.976,"j":-2.1},{"s":28,"r":2.011,"j":-1.3},{"s":28,"r":2.046,"j":-1.2},{"s":28,"r":2.081,"j":-1.0},{"s":28,"r":2.116,"j":-0.55},{"s":28,"r":2.151,"j":0},
{"s":29,"r":1.063,"j":0},{"s":29,"r":1.098,"j":2.2},{"s":29,"r":1.133,"j":0.9},{"s":29,"r":1.168,"j":2.0},{"s":29,"r":1.203,"j":3.2},{"s":29,"r":1.239,"j":1.5},{"s":29,"r":1.274,"j":-0.2},{"s":29,"r":1.309,"j":-1.8},{"s":29,"r":1.344,"j":0.0},{"s":29,"r":1.379,"j":1.7},{"s":29,"r":1.414,"j":3.0},{"s":29,"r":1.449,"j":1.4},{"s":29,"r":1.484,"j":-0.6},{"s":29,"r":1.519,"j":0.1},{"s":29,"r":1.554,"j":-0.2},{"s":29,"r":1.59,"j":-0.5},{"s":29,"r":1.625,"j":-0.4},{"s":29,"r":1.66,"j":-0.7},{"s":29,"r":1.695,"j":-0.5},{"s":29,"r":1.73,"j":-0.8},{"s":29,"r":1.765,"j":-1.1},{"s":29,"r":1.8,"j":-0.9},{"s":29,"r":1.835,"j":-1.2},{"s":29,"r":1.87,"j":-1.5},{"s":29,"r":1.905,"j":-1.7},{"s":29,"r":1.941,"j":-2.0},{"s":29,"r":1.976,"j":-1.2},{"s":29,"r":2.011,"j":-0.5},{"s":29,"r":2.046,"j":-0.7},{"s":29,"r":2.081,"j":-0.7},{"s":29,"r":2.116,"j":-0.15},{"s":29,"r":2.151,"j":0},
{"s":30,"r":1.063,"j":0},{"s":30,"r":1.098,"j":-2.6},{"s":30,"r":1.133,"j":-3.8},{"s":30,"r":1.168,"j":-2.5},{"s":30,"r":1.203,"j":-1.0},{"s":30,"r":1.239,"j":0.6},{"s":30,"r":1.274,"j":-0.9},{"s":30,"r":1.309,"j":-2.5},{"s":30,"r":1.344,"j":-1.1},{"s":30,"r":1.379,"j":0.5},{"s":30,"r":1.414,"j":2.2},{"s":30,"r":1.449,"j":0.5},{"s":30,"r":1.484,"j":-1.2},{"s":30,"r":1.519,"j":-2.8},{"s":30,"r":1.554,"j":-2.4},{"s":30,"r":1.59,"j":-2.0},{"s":30,"r":1.625,"j":-2.2},{"s":30,"r":1.66,"j":-1.9},{"s":30,"r":1.695,"j":-2.2},{"s":30,"r":1.73,"j":-2.5},{"s":30,"r":1.765,"j":-2.2},{"s":30,"r":1.8,"j":-2.0},{"s":30,"r":1.835,"j":-2.3},{"s":30,"r":1.87,"j":-2.6},{"s":30,"r":1.905,"j":-2.4},{"s":30,"r":1.941,"j":-2.2},{"s":30,"r":1.976,"j":-1.5},{"s":30,"r":2.011,"j":-1.0},{"s":30,"r":2.046,"j":-0.8},{"s":30,"r":2.081,"j":-0.9},{"s":30,"r":2.116,"j":-0.25},{"s":30,"r":2.151,"j":0},
{"s":31,"r":1.063,"j":0},{"s":31,"r":1.098,"j":0.7},{"s":31,"r":1.133,"j":-0.6},{"s":31,"r":1.168,"j":1.0},{"s":31,"r":1.203,"j":2.5},{"s":31,"r":1.239,"j":0.9},{"s":31,"r":1.274,"j":-0.8},{"s":31,"r":1.309,"j":-2.5},{"s":31,"r":1.344,"j":-3.4},{"s":31,"r":1.379,"j":-1.6},{"s":31,"r":1.414,"j":0.2},{"s":31,"r":1.449,"j":-1.5},{"s":31,"r":1.484,"j":-0.5},{"s":31,"r":1.519,"j":-1.3},{"s":31,"r":1.554,"j":-1.0},{"s":31,"r":1.59,"j":-1.2},{"s":31,"r":1.625,"j":-1.5},{"s":31,"r":1.66,"j":-1.3},{"s":31,"r":1.695,"j":-1.6},{"s":31,"r":1.73,"j":-1.9},{"s":31,"r":1.765,"j":-1.7},{"s":31,"r":1.8,"j":-2.0},{"s":31,"r":1.835,"j":-2.3},{"s":31,"r":1.87,"j":-2.1},{"s":31,"r":1.905,"j":-2.0},{"s":31,"r":1.941,"j":-2.3},{"s":31,"r":1.976,"j":-1.3},{"s":31,"r":2.011,"j":-0.6},{"s":31,"r":2.046,"j":-0.6},{"s":31,"r":2.081,"j":-0.7},{"s":31,"r":2.116,"j":-0.15},{"s":31,"r":2.151,"j":0},
{"s":32,"r":1.063,"j":0},{"s":32,"r":1.098,"j":1.7},{"s":32,"r":1.133,"j":3.5},{"s":32,"r":1.168,"j":2.0},{"s":32,"r":1.203,"j":0.4},{"s":32,"r":1.239,"j":1.9},{"s":32,"r":1.274,"j":0.3},{"s":32,"r":1.309,"j":-1.5},{"s":32,"r":1.344,"j":-3.0},{"s":32,"r":1.379,"j":-1.3},{"s":32,"r":1.414,"j":0.5},{"s":32,"r":1.449,"j":2.4},{"s":32,"r":1.484,"j":0.9},{"s":32,"r":1.519,"j":-0.5},{"s":32,"r":1.554,"j":-1.1},{"s":32,"r":1.59,"j":-1.4},{"s":32,"r":1.625,"j":-1.2},{"s":32,"r":1.66,"j":-1.5},{"s":32,"r":1.695,"j":-1.3},{"s":32,"r":1.73,"j":-1.6},{"s":32,"r":1.765,"j":-1.9},{"s":32,"r":1.8,"j":-1.8},{"s":32,"r":1.835,"j":-2.0},{"s":32,"r":1.87,"j":-1.8},{"s":32,"r":1.905,"j":-2.1},{"s":32,"r":1.941,"j":-2.4},{"s":32,"r":1.976,"j":-1.6},{"s":32,"r":2.011,"j":-0.8},{"s":32,"r":2.046,"j":-0.8},{"s":32,"r":2.081,"j":-0.8},{"s":32,"r":2.116,"j":-0.35},{"s":32,"r":2.151,"j":0},
{"s":33,"r":1.063,"j":0},{"s":33,"r":1.098,"j":-1.0},{"s":33,"r":1.133,"j":0.6},{"s":33,"r":1.168,"j":-1.0},{"s":33,"r":1.203,"j":-2.6},{"s":33,"r":1.239,"j":-1.0},{"s":33,"r":1.274,"j":0.7},{"s":33,"r":1.309,"j":2.3},{"s":33,"r":1.344,"j":0.6},{"s":33,"r":1.379,"j":-1.1},{"s":33,"r":1.414,"j":0.5},{"s":33,"r":1.449,"j":-1.2},{"s":33,"r":1.484,"j":-2.9},{"s":33,"r":1.519,"j":-1.8},{"s":33,"r":1.554,"j":-1.3},{"s":33,"r":1.59,"j":-1.7},{"s":33,"r":1.625,"j":-2.0},{"s":33,"r":1.66,"j":-1.8},{"s":33,"r":1.695,"j":-2.1},{"s":33,"r":1.73,"j":-1.9},{"s":33,"r":1.765,"j":-2.2},{"s":33,"r":1.8,"j":-2.4},{"s":33,"r":1.835,"j":-2.1},{"s":33,"r":1.87,"j":-1.9},{"s":33,"r":1.905,"j":-2.2},{"s":33,"r":1.941,"j":-2.5},{"s":33,"r":1.976,"j":-1.5},{"s":33,"r":2.011,"j":-0.8},{"s":33,"r":2.046,"j":-0.8},{"s":33,"r":2.081,"j":-0.9},{"s":33,"r":2.116,"j":-0.35},{"s":33,"r":2.151,"j":0},
{"s":34,"r":1.063,"j":0},{"s":34,"r":1.098,"j":2.0},{"s":34,"r":1.133,"j":0.4},{"s":34,"r":1.168,"j":-1.1},{"s":34,"r":1.203,"j":0.6},{"s":34,"r":1.239,"j":2.3},{"s":34,"r":1.274,"j":0.6},{"s":34,"r":1.309,"j":-1.0},{"s":34,"r":1.344,"j":-2.7},{"s":34,"r":1.379,"j":-1.0},{"s":34,"r":1.414,"j":0.8},{"s":34,"r":1.449,"j":-1.0},{"s":34,"r":1.484,"j":-2.3},{"s":34,"r":1.519,"j":-1.5},{"s":34,"r":1.554,"j":-0.9},{"s":34,"r":1.59,"j":-1.0},{"s":34,"r":1.625,"j":-0.8},{"s":34,"r":1.66,"j":-1.1},{"s":34,"r":1.695,"j":-1.4},{"s":34,"r":1.73,"j":-1.2},{"s":34,"r":1.765,"j":-1.5},{"s":34,"r":1.8,"j":-1.3},{"s":34,"r":1.835,"j":-1.6},{"s":34,"r":1.87,"j":-1.9},{"s":34,"r":1.905,"j":-1.6},{"s":34,"r":1.941,"j":-1.9},{"s":34,"r":1.976,"j":-1.0},{"s":34,"r":2.011,"j":-0.4},{"s":34,"r":2.046,"j":-0.4},{"s":34,"r":2.081,"j":-0.4},{"s":34,"r":2.116,"j":0.15},{"s":34,"r":2.151,"j":0},
{"s":35,"r":1.063,"j":0},{"s":35,"r":1.098,"j":-3.7},{"s":35,"r":1.133,"j":-2.2},{"s":35,"r":1.168,"j":-0.6},{"s":35,"r":1.203,"j":1.0},{"s":35,"r":1.239,"j":2.7},{"s":35,"r":1.274,"j":1.0},{"s":35,"r":1.309,"j":-0.7},{"s":35,"r":1.344,"j":1.0},{"s":35,"r":1.379,"j":2.5},{"s":35,"r":1.414,"j":0.7},{"s":35,"r":1.449,"j":-1.1},{"s":35,"r":1.484,"j":-2.6},{"s":35,"r":1.519,"j":-2.1},{"s":35,"r":1.554,"j":-1.7},{"s":35,"r":1.59,"j":-2.1},{"s":35,"r":1.625,"j":-1.8},{"s":35,"r":1.66,"j":-2.0},{"s":35,"r":1.695,"j":-2.3},{"s":35,"r":1.73,"j":-2.0},{"s":35,"r":1.765,"j":-1.7},{"s":35,"r":1.8,"j":-2.0},{"s":35,"r":1.835,"j":-2.4},{"s":35,"r":1.87,"j":-2.1},{"s":35,"r":1.905,"j":-2.3},{"s":35,"r":1.941,"j":-2.5},{"s":35,"r":1.976,"j":-1.7},{"s":35,"r":2.011,"j":-0.9},{"s":35,"r":2.046,"j":-0.8},{"s":35,"r":2.081,"j":-0.8},{"s":35,"r":2.116,"j":-0.25},{"s":35,"r":2.151,"j":0},
{"s":36,"r":1.063,"j":0},{"s":36,"r":1.098,"j":0.3},{"s":36,"r":1.133,"j":1.5},{"s":36,"r":1.168,"j":3.1},{"s":36,"r":1.203,"j":1.4},{"s":36,"r":1.239,"j":-0.3},{"s":36,"r":1.274,"j":-2.0},{"s":36,"r":1.309,"j":-3.3},{"s":36,"r":1.344,"j":-1.6},{"s":36,"r":1.379,"j":0.1},{"s":36,"r":1.414,"j":-1.6},{"s":36,"r":1.449,"j":-3.2},{"s":36,"r":1.484,"j":-1.5},{"s":36,"r":1.519,"j":-2.2},{"s":36,"r":1.554,"j":-2.5},{"s":36,"r":1.59,"j":-2.7},{"s":36,"r":1.625,"j":-2.4},{"s":36,"r":1.66,"j":-2.1},{"s":36,"r":1.695,"j":-2.4},{"s":36,"r":1.73,"j":-2.2},{"s":36,"r":1.765,"j":-2.5},{"s":36,"r":1.8,"j":-2.2},{"s":36,"r":1.835,"j":-2.4},{"s":36,"r":1.87,"j":-2.6},{"s":36,"r":1.905,"j":-2.8},{"s":36,"r":1.941,"j":-2.6},{"s":36,"r":1.976,"j":-1.8},{"s":36,"r":2.011,"j":-1.1},{"s":36,"r":2.046,"j":-1.1},{"s":36,"r":2.081,"j":-1.1},{"s":36,"r":2.116,"j":-0.45},{"s":36,"r":2.151,"j":0},
{"s":37,"r":1.063,"j":0},{"s":37,"r":1.098,"j":2.3},{"s":37,"r":1.133,"j":1.0},{"s":37,"r":1.168,"j":-0.6},{"s":37,"r":1.203,"j":-2.2},{"s":37,"r":1.239,"j":-0.5},{"s":37,"r":1.274,"j":1.2},{"s":37,"r":1.309,"j":2.9},{"s":37,"r":1.344,"j":1.2},{"s":37,"r":1.379,"j":-0.5},{"s":37,"r":1.414,"j":-2.2},{"s":37,"r":1.449,"j":-0.4},{"s":37,"r":1.484,"j":1.3},{"s":37,"r":1.519,"j":-0.1},{"s":37,"r":1.554,"j":-1.0},{"s":37,"r":1.59,"j":-0.6},{"s":37,"r":1.625,"j":-1.0},{"s":37,"r":1.66,"j":-1.3},{"s":37,"r":1.695,"j":-1.0},{"s":37,"r":1.73,"j":-0.8},{"s":37,"r":1.765,"j":-1.1},{"s":37,"r":1.8,"j":-1.4},{"s":37,"r":1.835,"j":-1.2},{"s":37,"r":1.87,"j":-1.0},{"s":37,"r":1.905,"j":-1.3},{"s":37,"r":1.941,"j":-1.6},{"s":37,"r":1.976,"j":-0.8},{"s":37,"r":2.011,"j":-0.2},{"s":37,"r":2.046,"j":-0.4},{"s":37,"r":2.081,"j":-0.5},{"s":37,"r":2.116,"j":0.2},{"s":37,"r":2.151,"j":0},
{"s":38,"r":1.063,"j":0},{"s":38,"r":1.098,"j":-1.3},{"s":38,"r":1.133,"j":-2.8},{"s":38,"r":1.168,"j":-1.2},{"s":38,"r":1.203,"j":0.5},{"s":38,"r":1.239,"j":-1.1},{"s":38,"r":1.274,"j":-2.8},{"s":38,"r":1.309,"j":-1.2},{"s":38,"r":1.344,"j":0.5},{"s":38,"r":1.379,"j":2.1},{"s":38,"r":1.414,"j":0.3},{"s":38,"r":1.449,"j":-1.3},{"s":38,"r":1.484,"j":-0.2},{"s":38,"r":1.519,"j":-0.9},{"s":38,"r":1.554,"j":-1.5},{"s":38,"r":1.59,"j":-1.9},{"s":38,"r":1.625,"j":-1.7},{"s":38,"r":1.66,"j":-2.0},{"s":38,"r":1.695,"j":-1.8},{"s":38,"r":1.73,"j":-2.1},{"s":38,"r":1.765,"j":-2.3},{"s":38,"r":1.8,"j":-2.6},{"s":38,"r":1.835,"j":-2.4},{"s":38,"r":1.87,"j":-2.2},{"s":38,"r":1.905,"j":-2.1},{"s":38,"r":1.941,"j":-2.2},{"s":38,"r":1.976,"j":-1.4},{"s":38,"r":2.011,"j":-0.8},{"s":38,"r":2.046,"j":-0.7},{"s":38,"r":2.081,"j":-0.7},{"s":38,"r":2.116,"j":-0.25},{"s":38,"r":2.151,"j":0},
{"s":39,"r":1.063,"j":0},{"s":39,"r":1.098,"j":-2.3},{"s":39,"r":1.133,"j":-1.1},{"s":39,"r":1.168,"j":0.7},{"s":39,"r":1.203,"j":2.2},{"s":39,"r":1.239,"j":3.6},{"s":39,"r":1.274,"j":1.9},{"s":39,"r":1.309,"j":0.2},{"s":39,"r":1.344,"j":-1.5},{"s":39,"r":1.379,"j":-3.1},{"s":39,"r":1.414,"j":-1.5},{"s":39,"r":1.449,"j":0.2},{"s":39,"r":1.484,"j":-1.5},{"s":39,"r":1.519,"j":-1.2},{"s":39,"r":1.554,"j":-1.7},{"s":39,"r":1.59,"j":-1.3},{"s":39,"r":1.625,"j":-1.6},{"s":39,"r":1.66,"j":-1.9},{"s":39,"r":1.695,"j":-1.7},{"s":39,"r":1.73,"j":-1.5},{"s":39,"r":1.765,"j":-1.8},{"s":39,"r":1.8,"j":-2.1},{"s":39,"r":1.835,"j":-1.9},{"s":39,"r":1.87,"j":-2.2},{"s":39,"r":1.905,"j":-2.0},{"s":39,"r":1.941,"j":-1.7},{"s":39,"r":1.976,"j":-0.9},{"s":39,"r":2.011,"j":-0.3},{"s":39,"r":2.046,"j":-0.5},{"s":39,"r":2.081,"j":-0.5},{"s":39,"r":2.116,"j":0.15},{"s":39,"r":2.151,"j":0},
{"s":40,"r":1.063,"j":0},{"s":40,"r":1.098,"j":2.7},{"s":40,"r":1.133,"j":1.1},{"s":40,"r":1.168,"j":-0.4},{"s":40,"r":1.203,"j":-2.0},{"s":40,"r":1.239,"j":-3.2},{"s":40,"r":1.274,"j":-1.6},{"s":40,"r":1.309,"j":0.1},{"s":40,"r":1.344,"j":1.7},{"s":40,"r":1.379,"j":0.0},{"s":40,"r":1.414,"j":-1.8},{"s":40,"r":1.449,"j":-0.1},{"s":40,"r":1.484,"j":1.6},{"s":40,"r":1.519,"j":0.5},{"s":40,"r":1.554,"j":0.2},{"s":40,"r":1.59,"j":-0.4},{"s":40,"r":1.625,"j":-0.6},{"s":40,"r":1.66,"j":-0.3},{"s":40,"r":1.695,"j":-0.5},{"s":40,"r":1.73,"j":-0.8},{"s":40,"r":1.765,"j":-1.1},{"s":40,"r":1.8,"j":-1.3},{"s":40,"r":1.835,"j":-1.1},{"s":40,"r":1.87,"j":-0.9},{"s":40,"r":1.905,"j":-0.8},{"s":40,"r":1.941,"j":-1.2},{"s":40,"r":1.976,"j":-0.5},{"s":40,"r":2.011,"j":-0.1},{"s":40,"r":2.046,"j":-0.3},{"s":40,"r":2.081,"j":-0.4},{"s":40,"r":2.116,"j":0.05},{"s":40,"r":2.151,"j":0},
{"s":41,"r":1.063,"j":0},{"s":41,"r":1.098,"j":-2.0},{"s":41,"r":1.133,"j":-3.4},{"s":41,"r":1.168,"j":-2.0},{"s":41,"r":1.203,"j":-0.4},{"s":41,"r":1.239,"j":1.2},{"s":41,"r":1.274,"j":-0.4},{"s":41,"r":1.309,"j":-2.1},{"s":41,"r":1.344,"j":-3.6},{"s":41,"r":1.379,"j":-1.8},{"s":41,"r":1.414,"j":-0.1},{"s":41,"r":1.449,"j":1.6},{"s":41,"r":1.484,"j":0.0},{"s":41,"r":1.519,"j":-1.7},{"s":41,"r":1.554,"j":-2.1},{"s":41,"r":1.59,"j":-2.0},{"s":41,"r":1.625,"j":-2.3},{"s":41,"r":1.66,"j":-2.5},{"s":41,"r":1.695,"j":-2.2},{"s":41,"r":1.73,"j":-2.0},{"s":41,"r":1.765,"j":-2.3},{"s":41,"r":1.8,"j":-2.0},{"s":41,"r":1.835,"j":-2.2},{"s":41,"r":1.87,"j":-2.4},{"s":41,"r":1.905,"j":-2.7},{"s":41,"r":1.941,"j":-2.9},{"s":41,"r":1.976,"j":-2.0},{"s":41,"r":2.011,"j":-1.3},{"s":41,"r":2.046,"j":-1.1},{"s":41,"r":2.081,"j":-1.0},{"s":41,"r":2.116,"j":-0.45},{"s":41,"r":2.151,"j":0},
{"s":42,"r":1.063,"j":0},{"s":42,"r":1.098,"j":0.9},{"s":42,"r":1.133,"j":2.1},{"s":42,"r":1.168,"j":2.6},{"s":42,"r":1.203,"j":0.4},{"s":42,"r":1.239,"j":-0.3},{"s":42,"r":1.274,"j":-1.8},{"s":42,"r":1.309,"j":-2.2},{"s":42,"r":1.344,"j":-0.4},{"s":42,"r":1.379,"j":1.8},{"s":42,"r":1.414,"j":2.9},{"s":42,"r":1.449,"j":0.1},{"s":42,"r":1.484,"j":-1.0},{"s":42,"r":1.519,"j":-1.9},{"s":42,"r":1.554,"j":-1.4},{"s":42,"r":1.59,"j":-1.1},{"s":42,"r":1.625,"j":-1.2},{"s":42,"r":1.66,"j":-1.5},{"s":42,"r":1.695,"j":-1.3},{"s":42,"r":1.73,"j":-1.4},{"s":42,"r":1.765,"j":-1.6},{"s":42,"r":1.8,"j":-1.4},{"s":42,"r":1.835,"j":-1.7},{"s":42,"r":1.87,"j":-1.9},{"s":42,"r":1.905,"j":-2.1},{"s":42,"r":1.941,"j":-2.2},{"s":42,"r":1.976,"j":-1.3},{"s":42,"r":2.011,"j":-0.7},{"s":42,"r":2.046,"j":-0.6},{"s":42,"r":2.081,"j":-0.7},{"s":42,"r":2.116,"j":-0.2},{"s":42,"r":2.151,"j":0},
{"s":43,"r":1.063,"j":0},{"s":43,"r":1.098,"j":-2.9},{"s":43,"r":1.133,"j":-1.6},{"s":43,"r":1.168,"j":-2.6},{"s":43,"r":1.203,"j":-0.8},{"s":43,"r":1.239,"j":-1.5},{"s":43,"r":1.274,"j":0.9},{"s":43,"r":1.309,"j":2.4},{"s":43,"r":1.344,"j":2.8},{"s":43,"r":1.379,"j":0.6},{"s":43,"r":1.414,"j":-1.4},{"s":43,"r":1.449,"j":-2.2},{"s":43,"r":1.484,"j":-2.8},{"s":43,"r":1.519,"j":-2.0},{"s":43,"r":1.554,"j":-1.6},{"s":43,"r":1.59,"j":-1.9},{"s":43,"r":1.625,"j":-1.6},{"s":43,"r":1.66,"j":-1.3},{"s":43,"r":1.695,"j":-1.7},{"s":43,"r":1.73,"j":-2.0},{"s":43,"r":1.765,"j":-1.8},{"s":43,"r":1.8,"j":-2.1},{"s":43,"r":1.835,"j":-1.8},{"s":43,"r":1.87,"j":-2.0},{"s":43,"r":1.905,"j":-2.4},{"s":43,"r":1.941,"j":-2.7},{"s":43,"r":1.976,"j":-1.7},{"s":43,"r":2.011,"j":-0.9},{"s":43,"r":2.046,"j":-0.9},{"s":43,"r":2.081,"j":-0.8},{"s":43,"r":2.116,"j":-0.4},{"s":43,"r":2.151,"j":0},
{"s":44,"r":1.063,"j":0},{"s":44,"r":1.098,"j":1.8},{"s":44,"r":1.133,"j":-0.8},{"s":44,"r":1.168,"j":-2.4},{"s":44,"r":1.203,"j":-1.6},{"s":44,"r":1.239,"j":0.9},{"s":44,"r":1.274,"j":1.3},{"s":44,"r":1.309,"j":-0.6},{"s":44,"r":1.344,"j":-2.5},{"s":44,"r":1.379,"j":-3.0},{"s":44,"r":1.414,"j":-0.9},{"s":44,"r":1.449,"j":1.8},{"s":44,"r":1.484,"j":1.1},{"s":44,"r":1.519,"j":-0.7},{"s":44,"r":1.554,"j":-1.3},{"s":44,"r":1.59,"j":-1.6},{"s":44,"r":1.625,"j":-2.0},{"s":44,"r":1.66,"j":-2.3},{"s":44,"r":1.695,"j":-2.5},{"s":44,"r":1.73,"j":-2.2},{"s":44,"r":1.765,"j":-1.9},{"s":44,"r":1.8,"j":-2.2},{"s":44,"r":1.835,"j":-2.6},{"s":44,"r":1.87,"j":-2.9},{"s":44,"r":1.905,"j":-2.7},{"s":44,"r":1.941,"j":-2.4},{"s":44,"r":1.976,"j":-1.6},{"s":44,"r":2.011,"j":-0.8},{"s":44,"r":2.046,"j":-0.7},{"s":44,"r":2.081,"j":-0.6},{"s":44,"r":2.116,"j":-0.1},{"s":44,"r":2.151,"j":0},
{"s":45,"r":1.063,"j":0},{"s":45,"r":1.098,"j":-0.4},{"s":45,"r":1.133,"j":0.6},{"s":45,"r":1.168,"j":-0.9},{"s":45,"r":1.203,"j":-2.4},{"s":45,"r":1.239,"j":-3.1},{"s":45,"r":1.274,"j":-1.2},{"s":45,"r":1.309,"j":1.1},{"s":45,"r":1.344,"j":0.5},{"s":45,"r":1.379,"j":-1.5},{"s":45,"r":1.414,"j":-0.3},{"s":45,"r":1.449,"j":2.0},{"s":45,"r":1.484,"j":1.4},{"s":45,"r":1.519,"j":-0.2},{"s":45,"r":1.554,"j":-0.6},{"s":45,"r":1.59,"j":-1.0},{"s":45,"r":1.625,"j":-1.2},{"s":45,"r":1.66,"j":-0.9},{"s":45,"r":1.695,"j":-1.1},{"s":45,"r":1.73,"j":-1.3},{"s":45,"r":1.765,"j":-1.2},{"s":45,"r":1.8,"j":-1.5},{"s":45,"r":1.835,"j":-1.4},{"s":45,"r":1.87,"j":-1.7},{"s":45,"r":1.905,"j":-1.9},{"s":45,"r":1.941,"j":-2.0},{"s":45,"r":1.976,"j":-1.2},{"s":45,"r":2.011,"j":-0.6},{"s":45,"r":2.046,"j":-0.7},{"s":45,"r":2.081,"j":-0.6},{"s":45,"r":2.116,"j":-0.1},{"s":45,"r":2.151,"j":0},
{"s":46,"r":1.063,"j":0},{"s":46,"r":1.098,"j":3.3},{"s":46,"r":1.133,"j":1.9},{"s":46,"r":1.168,"j":0.2},{"s":46,"r":1.203,"j":1.1},{"s":46,"r":1.239,"j":-0.8},{"s":46,"r":1.274,"j":-2.6},{"s":46,"r":1.309,"j":-1.9},{"s":46,"r":1.344,"j":0.3},{"s":46,"r":1.379,"j":-1.2},{"s":46,"r":1.414,"j":-2.8},{"s":46,"r":1.449,"j":-2.0},{"s":46,"r":1.484,"j":-0.8},{"s":46,"r":1.519,"j":-1.3},{"s":46,"r":1.554,"j":-1.9},{"s":46,"r":1.59,"j":-2.2},{"s":46,"r":1.625,"j":-2.0},{"s":46,"r":1.66,"j":-2.3},{"s":46,"r":1.695,"j":-2.1},{"s":46,"r":1.73,"j":-2.4},{"s":46,"r":1.765,"j":-2.2},{"s":46,"r":1.8,"j":-2.3},{"s":46,"r":1.835,"j":-2.5},{"s":46,"r":1.87,"j":-2.3},{"s":46,"r":1.905,"j":-2.2},{"s":46,"r":1.941,"j":-2.5},{"s":46,"r":1.976,"j":-1.7},{"s":46,"r":2.011,"j":-1.0},{"s":46,"r":2.046,"j":-0.9},{"s":46,"r":2.081,"j":-0.9},{"s":46,"r":2.116,"j":-0.4},{"s":46,"r":2.151,"j":0},
{"s":47,"r":1.063,"j":0},{"s":47,"r":1.098,"j":-1.6},{"s":47,"r":1.133,"j":-2.9},{"s":47,"r":1.168,"j":-0.9},{"s":47,"r":1.203,"j":1.3},{"s":47,"r":1.239,"j":2.0},{"s":47,"r":1.274,"j":0.4},{"s":47,"r":1.309,"j":-1.3},{"s":47,"r":1.344,"j":-0.2},{"s":47,"r":1.379,"j":-1.7},{"s":47,"r":1.414,"j":-2.6},{"s":47,"r":1.449,"j":0.5},{"s":47,"r":1.484,"j":2.8},{"s":47,"r":1.519,"j":1.6},{"s":47,"r":1.554,"j":0.1},{"s":47,"r":1.59,"j":-0.5},{"s":47,"r":1.625,"j":-0.9},{"s":47,"r":1.66,"j":-1.2},{"s":47,"r":1.695,"j":-1.0},{"s":47,"r":1.73,"j":-1.3},{"s":47,"r":1.765,"j":-1.5},{"s":47,"r":1.8,"j":-1.7},{"s":47,"r":1.835,"j":-1.5},{"s":47,"r":1.87,"j":-1.4},{"s":47,"r":1.905,"j":-1.6},{"s":47,"r":1.941,"j":-1.9},{"s":47,"r":1.976,"j":-1.0},{"s":47,"r":2.011,"j":-0.5},{"s":47,"r":2.046,"j":-0.6},{"s":47,"r":2.081,"j":-0.6},{"s":47,"r":2.116,"j":-0.05},{"s":47,"r":2.151,"j":0},
{"s":48,"r":1.063,"j":0},{"s":48,"r":1.098,"j":1.0},{"s":48,"r":1.133,"j":-1.1},{"s":48,"r":1.168,"j":-0.4},{"s":48,"r":1.203,"j":1.6},{"s":48,"r":1.239,"j":3.0},{"s":48,"r":1.274,"j":2.2},{"s":48,"r":1.309,"j":0.6},{"s":48,"r":1.344,"j":-1.4},{"s":48,"r":1.379,"j":-2.3},{"s":48,"r":1.414,"j":-3.3},{"s":48,"r":1.449,"j":-1.4},{"s":48,"r":1.484,"j":0.6},{"s":48,"r":1.519,"j":-0.8},{"s":48,"r":1.554,"j":-1.3},{"s":48,"r":1.59,"j":-1.5},{"s":48,"r":1.625,"j":-1.8},{"s":48,"r":1.66,"j":-1.6},{"s":48,"r":1.695,"j":-1.9},{"s":48,"r":1.73,"j":-1.7},{"s":48,"r":1.765,"j":-2.0},{"s":48,"r":1.8,"j":-1.8},{"s":48,"r":1.835,"j":-1.6},{"s":48,"r":1.87,"j":-1.9},{"s":48,"r":1.905,"j":-2.1},{"s":48,"r":1.941,"j":-2.3},{"s":48,"r":1.976,"j":-1.5},{"s":48,"r":2.011,"j":-0.8},{"s":48,"r":2.046,"j":-0.8},{"s":48,"r":2.081,"j":-0.7},{"s":48,"r":2.116,"j":-0.3},{"s":48,"r":2.151,"j":0},
{"s":49,"r":1.063,"j":0},{"s":49,"r":1.098,"j":-3.3},{"s":49,"r":1.133,"j":-2.0},{"s":49,"r":1.168,"j":-2.7},{"s":49,"r":1.203,"j":-3.9},{"s":49,"r":1.239,"j":-2.2},{"s":49,"r":1.274,"j":-0.9},{"s":49,"r":1.309,"j":-2.0},{"s":49,"r":1.344,"j":-3.3},{"s":49,"r":1.379,"j":-2.0},{"s":49,"r":1.414,"j":-0.4},{"s":49,"r":1.449,"j":-1.7},{"s":49,"r":1.484,"j":-2.2},{"s":49,"r":1.519,"j":-2.9},{"s":49,"r":1.554,"j":-2.6},{"s":49,"r":1.59,"j":-2.9},{"s":49,"r":1.625,"j":-2.6},{"s":49,"r":1.66,"j":-2.8},{"s":49,"r":1.695,"j":-2.5},{"s":49,"r":1.73,"j":-2.7},{"s":49,"r":1.765,"j":-2.9},{"s":49,"r":1.8,"j":-2.6},{"s":49,"r":1.835,"j":-2.8},{"s":49,"r":1.87,"j":-2.5},{"s":49,"r":1.905,"j":-2.3},{"s":49,"r":1.941,"j":-2.6},{"s":49,"r":1.976,"j":-1.9},{"s":49,"r":2.011,"j":-1.2},{"s":49,"r":2.046,"j":-1.0},{"s":49,"r":2.081,"j":-1.0},{"s":49,"r":2.116,"j":-0.5},{"s":49,"r":2.151,"j":0},
{"s":50,"r":1.063,"j":0},{"s":50,"r":1.098,"j":2.4},{"s":50,"r":1.133,"j":3.1},{"s":50,"r":1.168,"j":1.2},{"s":50,"r":1.203,"j":-0.9},{"s":50,"r":1.239,"j":-0.2},{"s":50,"r":1.274,"j":1.7},{"s":50,"r":1.309,"j":2.7},{"s":50,"r":1.344,"j":0.8},{"s":50,"r":1.379,"j":0.3},{"s":50,"r":1.414,"j":1.6},{"s":50,"r":1.449,"j":-0.6},{"s":50,"r":1.484,"j":-1.7},{"s":50,"r":1.519,"j":-1.1},{"s":50,"r":1.554,"j":-1.3},{"s":50,"r":1.59,"j":-0.9},{"s":50,"r":1.625,"j":-1.2},{"s":50,"r":1.66,"j":-1.0},{"s":50,"r":1.695,"j":-1.3},{"s":50,"r":1.73,"j":-1.6},{"s":50,"r":1.765,"j":-1.4},{"s":50,"r":1.8,"j":-1.2},{"s":50,"r":1.835,"j":-1.4},{"s":50,"r":1.87,"j":-1.7},{"s":50,"r":1.905,"j":-1.8},{"s":50,"r":1.941,"j":-2.0},{"s":50,"r":1.976,"j":-1.1},{"s":50,"r":2.011,"j":-0.5},{"s":50,"r":2.046,"j":-0.6},{"s":50,"r":2.081,"j":-0.6},{"s":50,"r":2.116,"j":0.1},{"s":50,"r":2.151,"j":0},
{"s":51,"r":1.063,"j":0},{"s":51,"r":1.098,"j":-0.2},{"s":51,"r":1.133,"j":-1.8},{"s":51,"r":1.168,"j":-1.1},{"s":51,"r":1.203,"j":0.7},{"s":51,"r":1.239,"j":0.2},{"s":51,"r":1.274,"j":-1.7},{"s":51,"r":1.309,"j":-3.2},{"s":51,"r":1.344,"j":-2.4},{"s":51,"r":1.379,"j":-0.6},{"s":51,"r":1.414,"j":0.9},{"s":51,"r":1.449,"j":2.6},{"s":51,"r":1.484,"j":1.9},{"s":51,"r":1.519,"j":0.3},{"s":51,"r":1.554,"j":-0.4},{"s":51,"r":1.59,"j":-0.8},{"s":51,"r":1.625,"j":-1.1},{"s":51,"r":1.66,"j":-1.4},{"s":51,"r":1.695,"j":-1.6},{"s":51,"r":1.73,"j":-1.8},{"s":51,"r":1.765,"j":-1.7},{"s":51,"r":1.8,"j":-1.6},{"s":51,"r":1.835,"j":-1.9},{"s":51,"r":1.87,"j":-2.1},{"s":51,"r":1.905,"j":-2.3},{"s":51,"r":1.941,"j":-2.4},{"s":51,"r":1.976,"j":-1.5},{"s":51,"r":2.011,"j":-0.8},{"s":51,"r":2.046,"j":-0.8},{"s":51,"r":2.081,"j":-0.8},{"s":51,"r":2.116,"j":-0.3},{"s":51,"r":2.151,"j":0},
{"s":52,"r":1.063,"j":0},{"s":52,"r":1.098,"j":1.3},{"s":52,"r":1.133,"j":0.1},{"s":52,"r":1.168,"j":1.6},{"s":52,"r":1.203,"j":2.8},{"s":52,"r":1.239,"j":1.2},{"s":52,"r":1.274,"j":-0.6},{"s":52,"r":1.309,"j":0.4},{"s":52,"r":1.344,"j":1.9},{"s":52,"r":1.379,"j":-0.4},{"s":52,"r":1.414,"j":-2.4},{"s":52,"r":1.449,"j":-3.1},{"s":52,"r":1.484,"j":-2.3},{"s":52,"r":1.519,"j":-1.6},{"s":52,"r":1.554,"j":-2.2},{"s":52,"r":1.59,"j":-2.5},{"s":52,"r":1.625,"j":-2.2},{"s":52,"r":1.66,"j":-1.9},{"s":52,"r":1.695,"j":-2.2},{"s":52,"r":1.73,"j":-2.4},{"s":52,"r":1.765,"j":-2.1},{"s":52,"r":1.8,"j":-1.9},{"s":52,"r":1.835,"j":-2.1},{"s":52,"r":1.87,"j":-2.3},{"s":52,"r":1.905,"j":-2.0},{"s":52,"r":1.941,"j":-2.2},{"s":52,"r":1.976,"j":-1.5},{"s":52,"r":2.011,"j":-0.9},{"s":52,"r":2.046,"j":-1.0},{"s":52,"r":2.081,"j":-0.9},{"s":52,"r":2.116,"j":-0.5},{"s":52,"r":2.151,"j":0},
{"s":53,"r":1.063,"j":0},{"s":53,"r":1.098,"j":-1.1},{"s":53,"r":1.133,"j":-2.3},{"s":53,"r":1.168,"j":-3.6},{"s":53,"r":1.203,"j":-2.6},{"s":53,"r":1.239,"j":-1.1},{"s":53,"r":1.274,"j":0.6},{"s":53,"r":1.309,"j":-0.9},{"s":53,"r":1.344,"j":-2.2},{"s":53,"r":1.379,"j":-0.8},{"s":53,"r":1.414,"j":1.1},{"s":53,"r":1.449,"j":0.8},{"s":53,"r":1.484,"j":-0.9},{"s":53,"r":1.519,"j":-1.9},{"s":53,"r":1.554,"j":-2.4},{"s":53,"r":1.59,"j":-1.9},{"s":53,"r":1.625,"j":-2.1},{"s":53,"r":1.66,"j":-1.9},{"s":53,"r":1.695,"j":-1.6},{"s":53,"r":1.73,"j":-1.8},{"s":53,"r":1.765,"j":-2.1},{"s":53,"r":1.8,"j":-2.3},{"s":53,"r":1.835,"j":-2.0},{"s":53,"r":1.87,"j":-1.8},{"s":53,"r":1.905,"j":-2.0},{"s":53,"r":1.941,"j":-2.3},{"s":53,"r":1.976,"j":-1.4},{"s":53,"r":2.011,"j":-0.7},{"s":53,"r":2.046,"j":-0.8},{"s":53,"r":2.081,"j":-0.7},{"s":53,"r":2.116,"j":-0.2},{"s":53,"r":2.151,"j":0},
{"s":54,"r":1.063,"j":0},{"s":54,"r":1.098,"j":0.1},{"s":54,"r":1.133,"j":1.0},{"s":54,"r":1.168,"j":2.2},{"s":54,"r":1.203,"j":3.6},{"s":54,"r":1.239,"j":2.4},{"s":54,"r":1.274,"j":0.8},{"s":54,"r":1.309,"j":-1.0},{"s":54,"r":1.344,"j":-2.7},{"s":54,"r":1.379,"j":-1.4},{"s":54,"r":1.414,"j":-0.7},{"s":54,"r":1.449,"j":-2.1},{"s":54,"r":1.484,"j":-3.0},{"s":54,"r":1.519,"j":-2.6},{"s":54,"r":1.554,"j":-2.2},{"s":54,"r":1.59,"j":-2.5},{"s":54,"r":1.625,"j":-2.7},{"s":54,"r":1.66,"j":-2.4},{"s":54,"r":1.695,"j":-2.6},{"s":54,"r":1.73,"j":-2.9},{"s":54,"r":1.765,"j":-2.6},{"s":54,"r":1.8,"j":-2.4},{"s":54,"r":1.835,"j":-2.6},{"s":54,"r":1.87,"j":-2.4},{"s":54,"r":1.905,"j":-2.7},{"s":54,"r":1.941,"j":-2.9},{"s":54,"r":1.976,"j":-2.1},{"s":54,"r":2.011,"j":-1.2},{"s":54,"r":2.046,"j":-1.0},{"s":54,"r":2.081,"j":-1.0},{"s":54,"r":2.116,"j":-0.6},{"s":54,"r":2.151,"j":0},
{"s":55,"r":1.063,"j":0},{"s":55,"r":1.098,"j":2.9},{"s":55,"r":1.133,"j":1.4},{"s":55,"r":1.168,"j":1.9},{"s":55,"r":1.203,"j":0.2},{"s":55,"r":1.239,"j":-1.3},{"s":55,"r":1.274,"j":-0.4},{"s":55,"r":1.309,"j":1.3},{"s":55,"r":1.344,"j":2.2},{"s":55,"r":1.379,"j":3.2},{"s":55,"r":1.414,"j":1.7},{"s":55,"r":1.449,"j":0.0},{"s":55,"r":1.484,"j":1.1},{"s":55,"r":1.519,"j":-0.3},{"s":55,"r":1.554,"j":-0.8},{"s":55,"r":1.59,"j":-1.1},{"s":55,"r":1.625,"j":-0.9},{"s":55,"r":1.66,"j":-1.2},{"s":55,"r":1.695,"j":-1.4},{"s":55,"r":1.73,"j":-1.1},{"s":55,"r":1.765,"j":-1.3},{"s":55,"r":1.8,"j":-1.5},{"s":55,"r":1.835,"j":-1.7},{"s":55,"r":1.87,"j":-1.5},{"s":55,"r":1.905,"j":-1.4},{"s":55,"r":1.941,"j":-1.7},{"s":55,"r":1.976,"j":-0.9},{"s":55,"r":2.011,"j":-0.4},{"s":55,"r":2.046,"j":-0.5},{"s":55,"r":2.081,"j":-0.5},{"s":55,"r":2.116,"j":0.05},{"s":55,"r":2.151,"j":0}
],
"k": [
{"g":1,"r":1.063,"j":0},{"g":1,"r":1.099,"j":-0.14},{"g":1,"r":1.133,"j":-0.17},{"g":1,"r":1.147,"j":-0.29},
{"g":2,"r":1.175,"j":-0.38},{"g":2,"r":1.205,"j":0.04},{"g":2,"r":1.237,"j":0.04},
{"g":3,"r":1.283,"j":0.09},{"g":3,"r":1.31,"j":0.18},{"g":3,"r":1.341,"j":-0.28},
{"g":4,"r":1.378,"j":-0.49},{"g":4,"r":1.415,"j":-0.56},{"g":4,"r":1.436,"j":-0.99},
{"g":5,"r":1.453,"j":-1.31},{"g":5,"r":1.517,"j":-1.29},{"g":5,"r":1.546,"j":-1.33},
{"g":6,"r":1.59,"j":-1.5},{"g":6,"r":1.686,"j":-1.41},
{"g":7,"r":1.731,"j":-1.53},{"g":7,"r":1.802,"j":-1.5},{"g":7,"r":1.819,"j":-1.64},
{"g":8,"r":1.861,"j":-1.74},{"g":8,"r":1.902,"j":-1.69},{"g":8,"r":1.941,"j":-1.78},{"g":8,"r":1.976,"j":-1.1},{"g":8,"r":2.011,"j":-0.74},
{"g":9,"r":2.06,"j":-0.65},{"g":9,"r":2.081,"j":-0.62},{"g":9,"r":2.098,"j":-0.15},{"g":9,"r":2.151,"j":0}
],
"c": [
{"r":1.651,"j":-2.17},{"r":1.626,"j":-2.46},{"r":1.604,"j":-2.9},{"r":1.592,"j":-3.19},{"r":1.582,"j":-3.44}
]
},
"layer": [
{
 "data": {"name": "m"},
 "mark": {"type": "line", "strokeWidth": 1.1, "clip": true},
 "encoding": {
  "x": {"field": "r", "type": "quantitative", "scale": {"domain": [1.063, 2.151], "nice": false, "zero": false},
        "axis": {"title": null, "values": [1.1,1.15,1.2,1.25,1.3,1.35,1.4,1.45,1.5,1.55,1.6,1.65,1.7,1.75,1.8,1.85,1.9,1.95,2.0,2.05,2.1,2.15],
                 "labelExpr": "abs(datum.value*5-round(datum.value*5))<0.001 ? format(datum.value,'.1f') : ''",
                 "tickSize": {"condition": {"test": "abs(datum.value*5-round(datum.value*5))<0.001", "value": 9}, "value": 6},
                 "labelPadding": 7}},
  "y": {"field": "j", "type": "quantitative", "scale": {"domain": [-3, 2], "nice": false, "zero": false},
        "axis": {"title": "j / MA", "titleAnchor": "end", "titlePadding": 3, "values": [-3,-2.5,-2,-1.5,-1,-0.5,0,0.5,1,1.5,2],
                 "labelExpr": "datum.value % 1 === 0 ? '' + datum.value : ''",
                 "tickSize": {"condition": {"test": "datum.value % 1 === 0", "value": 9}, "value": 5},
                 "labelPadding": 5}},
  "detail": {"field": "s", "type": "nominal"},
  "color": {"field": "s", "type": "nominal", "legend": null,
            "scale": {"domain": [0,1,2,3,4,5,6,7,8,9,10,11,12,13,14,15,16,17,18,19,20,21,22,23,24,25,26,27,28,29,30,31,32,33,34,35,36,37,38,39,40,41,42,43,44,45,46,47,48,49,50,51,52,53,54,55],
                      "range": ["#0000ff","#008000","#ff0000","#00bfbf","#bf00bf","#bfbf00","#404040","#0000ff","#008000","#ff0000","#00bfbf","#bf00bf","#bfbf00","#404040","#0000ff","#008000","#ff0000","#00bfbf","#bf00bf","#bfbf00","#404040","#0000ff","#008000","#ff0000","#00bfbf","#bf00bf","#bfbf00","#404040","#0000ff","#008000","#ff0000","#00bfbf","#bf00bf","#bfbf00","#404040","#0000ff","#008000","#ff0000","#00bfbf","#bf00bf","#bfbf00","#404040","#0000ff","#008000","#ff0000","#00bfbf","#bf00bf","#bfbf00","#404040","#0000ff","#008000","#ff0000","#00bfbf","#bf00bf","#bfbf00","#404040"]}}
 }
},
{
 "data": {"name": "k"},
 "mark": {"type": "line", "color": "#000000", "strokeWidth": 3.5, "clip": true},
 "encoding": {
  "x": {"field": "r", "type": "quantitative"},
  "y": {"field": "j", "type": "quantitative"},
  "detail": {"field": "g", "type": "nominal"}
 }
},
{
 "data": {"name": "c"},
 "mark": {"type": "line", "color": "#000000", "strokeWidth": 6, "clip": false, "interpolate": "monotone"},
 "encoding": {
  "x": {"field": "r", "type": "quantitative"},
  "y": {"field": "j", "type": "quantitative"}
 }
},
{
 "data": {"values": [{}]},
 "mark": {"type": "text", "align": "right", "baseline": "alphabetic", "font": "DejaVu Sans", "fontSize": 38, "color": "#000000"},
 "encoding": {"x": {"datum": 2.0915, "type": "quantitative"}, "y": {"datum": 1.46, "type": "quantitative"}, "text": {"value": "2) Normal MSE"}}
},
{
 "data": {"values": [{}]},
 "mark": {"type": "text", "align": "right", "baseline": "alphabetic", "font": "DejaVu Sans", "fontSize": 38, "color": "#000000"},
 "encoding": {"x": {"datum": 2.0915, "type": "quantitative"}, "y": {"datum": 0.87, "type": "quantitative"}, "text": {"value": "(line)"}}
},
{
 "data": {"values": [{}]},
 "mark": {"type": "text", "align": "right", "baseline": "alphabetic", "font": "DejaVu Sans", "fontSize": 17, "color": "#000000"},
 "encoding": {"x": {"datum": 2.1017, "type": "quantitative"}, "y": {"datum": -2.795, "type": "quantitative"}, "text": {"value": "R / m"}}
}
]
}
